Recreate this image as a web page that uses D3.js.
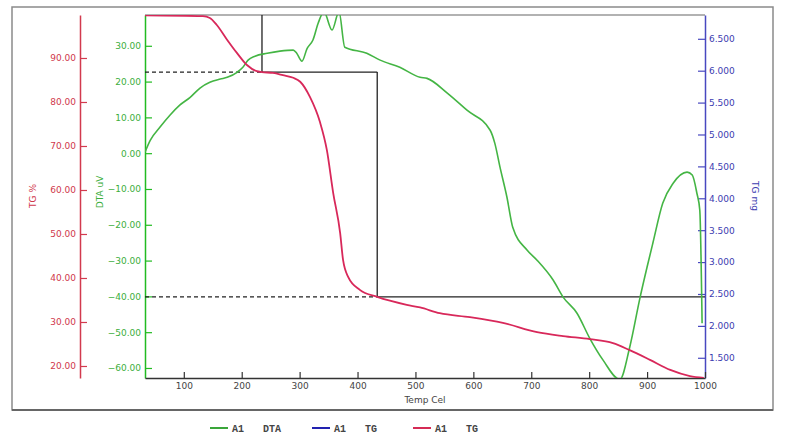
<!DOCTYPE html>
<html>
<head>
<meta charset="utf-8">
<script src="https://cdn.jsdelivr.net/npm/d3@7"></script>
<style>
  body { margin: 0; background: #fff; }
  text { font-family: "DejaVu Sans", sans-serif; }
</style>
</head>
<body>
<svg id="chart"></svg>
<script>
// TG (%) curve
const tgTemp = [33, 133, 145, 157, 175, 192, 209, 226, 235, 254, 271, 289, 301, 318, 335, 347, 358, 370, 375, 384, 404, 434, 485, 508, 542, 594, 651, 710, 755, 801, 841, 870, 905, 940, 974, 998];
const tgPct  = [99.7, 99.5, 99.1, 97.5, 94.1, 91.1, 88.4, 87.0, 86.8, 86.6, 86.1, 85.5, 84.6, 81.1, 75.5, 69.1, 59.3, 50.2, 44.1, 40.2, 37.3, 35.7, 33.9, 33.3, 32.0, 31.1, 29.8, 27.7, 26.8, 26.1, 25.2, 23.6, 21.4, 19.1, 17.7, 17.3];

// DTA (uV) curve
const dtaTemp = [33, 42, 59, 76, 93, 111, 128, 145, 163, 175, 192, 202, 211, 223, 244, 266, 289, 295, 304, 313, 323, 332, 342, 356, 368, 378, 416, 439, 473, 508, 520, 555, 589, 629, 637, 646, 658, 668, 693, 710, 738, 755, 779, 801, 824, 853, 870, 888, 900, 910, 927, 945, 969, 978, 986, 991, 995];
const dtaVal  = [0.3, 3.6, 7.3, 10.6, 13.4, 15.6, 18.2, 19.8, 20.7, 21.2, 22.6, 24.0, 26.0, 27.1, 27.9, 28.5, 28.8, 27.9, 25.7, 29.3, 31.6, 36.3, 39.5, 34.4, 39.5, 29.6, 27.9, 26.0, 24.0, 21.2, 20.9, 16.8, 12.0, 6.4, 2.8, -3.9, -12.3, -20.7, -27.1, -29.9, -35.5, -40.2, -44.7, -51.7, -57.8, -63.2, -54.2, -40.2, -31.8, -25.1, -14.0, -8.4, -5.3, -6.1, -11.2, -15.9, -47.5];

// step marks (temperature, TG %)
const stepTemp = [235, 434];
const stepPct = [86.8, 35.7];

const pctTicks = [20, 30, 40, 50, 60, 70, 80, 90];
const dtaTicks = [-60, -50, -40, -30, -20, -10, 0, 10, 20, 30];
const mgTicks = [1.5, 2, 2.5, 3, 3.5, 4, 4.5, 5, 5.5, 6, 6.5];
const tempTicks = [100, 200, 300, 400, 500, 600, 700, 800, 900, 1000];

const legendNames = ["DTA", "TG", "TG"];
const legendColors = ["#3aa63a", "#2222b0", "#d52b55"];

const W = 786, H = 445;
const pLeft = 145, pRight = 705, pTop = 15, pBottom = 378;

const svg = d3.select("#chart").attr("width", W).attr("height", H);

const x = d3.scaleLinear().domain([33, 1000]).range([pLeft, pRight]);
const yPct = d3.scaleLinear().domain([17.27, 99.77]).range([pBottom, pTop]);
const yDta = d3.scaleLinear().domain([-62.8, 38.6]).range([pBottom, pTop]);
const yMg = d3.scaleLinear().domain([1.183, 6.873]).range([pBottom, pTop]);

// outer frame
svg.append("rect")
  .attr("x", 12).attr("y", 7)
  .attr("width", 761).attr("height", 403)
  .attr("fill", "none").attr("stroke", "#8a8a8a").attr("stroke-width", 1.5);
svg.append("line")
  .attr("x1", 12).attr("x2", 773).attr("y1", 410).attr("y2", 410)
  .attr("stroke", "#666").attr("stroke-width", 2);

// plot top border
svg.append("line")
  .attr("x1", pLeft).attr("x2", pRight).attr("y1", pTop).attr("y2", pTop)
  .attr("stroke", "#999").attr("stroke-width", 1.5);

svg.append("clipPath").attr("id", "clip")
  .append("rect").attr("x", pLeft).attr("y", pTop)
  .attr("width", pRight - pLeft).attr("height", pBottom - pTop);

// axes
const styleAxis = (g, color, textColor) => {
  g.select(".domain").attr("stroke", color).attr("stroke-width", 1.5);
  g.selectAll(".tick line").attr("stroke", color).attr("stroke-width", 1.2);
  g.selectAll(".tick text").attr("fill", textColor).style("font-size", "9px");
};

let redAxis = svg.append("g")
  .attr("transform", "translate(80,0)")
  .call(d3.axisLeft(yPct).tickValues(pctTicks).tickSize(-7).tickSizeOuter(0).tickPadding(4).tickFormat(d3.format(".2f")));
styleAxis(redAxis, "#d23a4e", "#d0384c");

let greenAxis = svg.append("g")
  .attr("transform", `translate(${pLeft},0)`)
  .call(d3.axisLeft(yDta).tickValues(dtaTicks).tickSize(-7).tickSizeOuter(0).tickPadding(4).tickFormat(d3.format(".2f")));
styleAxis(greenAxis, "#22bb22", "#3cae3c");

let blueAxis = svg.append("g")
  .attr("transform", `translate(${pRight},0)`)
  .call(d3.axisRight(yMg).tickValues(mgTicks).tickSize(-7).tickSizeOuter(0).tickPadding(4).tickFormat(d3.format(".3f")));
styleAxis(blueAxis, "#4848c0", "#3c3cb0");

let xAxis = svg.append("g")
  .attr("transform", `translate(0,${pBottom})`)
  .call(d3.axisBottom(x).tickValues(tempTicks).tickSize(-6).tickSizeOuter(0).tickPadding(5).tickFormat(d3.format("d")));
styleAxis(xAxis, "#333", "#444");

// axis titles
svg.append("text").attr("transform", "translate(36,196) rotate(-90)")
  .attr("text-anchor", "middle").attr("fill", "#d0384c").style("font-size", "9px").text("TG %");
svg.append("text").attr("transform", "translate(103,192) rotate(-90)")
  .attr("text-anchor", "middle").attr("fill", "#3cae3c").style("font-size", "9px").text("DTA uV");
svg.append("text").attr("transform", "translate(752,196) rotate(90)")
  .attr("text-anchor", "middle").attr("fill", "#3c3cb0").style("font-size", "9px").text("TG mg");
svg.append("text").attr("x", 425).attr("y", 403)
  .attr("text-anchor", "middle").attr("fill", "#444").style("font-size", "9px").text("Temp Cel");

// step marks
const sx = stepTemp.map(x), sy = stepPct.map(yPct);
const black = "#222";
const mark = (x1, x2, y1, y2, dashed) => {
  svg.append("line").attr("x1", x1).attr("x2", x2).attr("y1", y1).attr("y2", y2)
    .attr("stroke", black).attr("stroke-width", 1.3)
    .attr("stroke-dasharray", dashed ? "4,3" : null);
};
mark(sx[0], sx[0], pTop, sy[0]);
mark(pLeft, sx[0], sy[0], sy[0], true);
mark(sx[0], sx[1], sy[0], sy[0]);
mark(sx[1], sx[1], sy[0], sy[1]);
mark(pLeft, sx[1], sy[1], sy[1], true);
mark(sx[1], pRight, sy[1], sy[1]);

// curves
const plot = svg.append("g").attr("clip-path", "url(#clip)");

const dtaLine = d3.line()
  .x((d, i) => x(dtaTemp[i]))
  .y(d => yDta(d))
  .curve(d3.curveMonotoneX);
plot.append("path").datum(dtaVal)
  .attr("d", dtaLine)
  .attr("fill", "none").attr("stroke", "#44b544").attr("stroke-width", 1.6);

const tgLine = d3.line()
  .x((d, i) => x(tgTemp[i]))
  .y(d => yPct(d))
  .curve(d3.curveMonotoneX);
plot.append("path").datum(tgPct)
  .attr("d", tgLine)
  .attr("fill", "none").attr("stroke", "#d8285a").attr("stroke-width", 1.8);

// legend
const legendX = [210, 312, 413];
legendNames.forEach((name, i) => {
  let g = svg.append("g").attr("transform", `translate(${legendX[i]},428)`);
  g.append("line").attr("x1", 0).attr("x2", 18).attr("y1", 0).attr("y2", 0)
    .attr("stroke", legendColors[i]).attr("stroke-width", 2);
  g.append("text").attr("x", 22).attr("y", 3.5)
    .attr("fill", "#444").style("font-family", "'Liberation Mono', monospace")
    .style("font-size", "10px").style("font-weight", "bold").text("A1");
  g.append("text").attr("x", 53).attr("y", 3.5)
    .attr("fill", "#444").style("font-family", "'Liberation Mono', monospace")
    .style("font-size", "10px").style("font-weight", "bold").text(name);
});
</script>
</body>
</html>
